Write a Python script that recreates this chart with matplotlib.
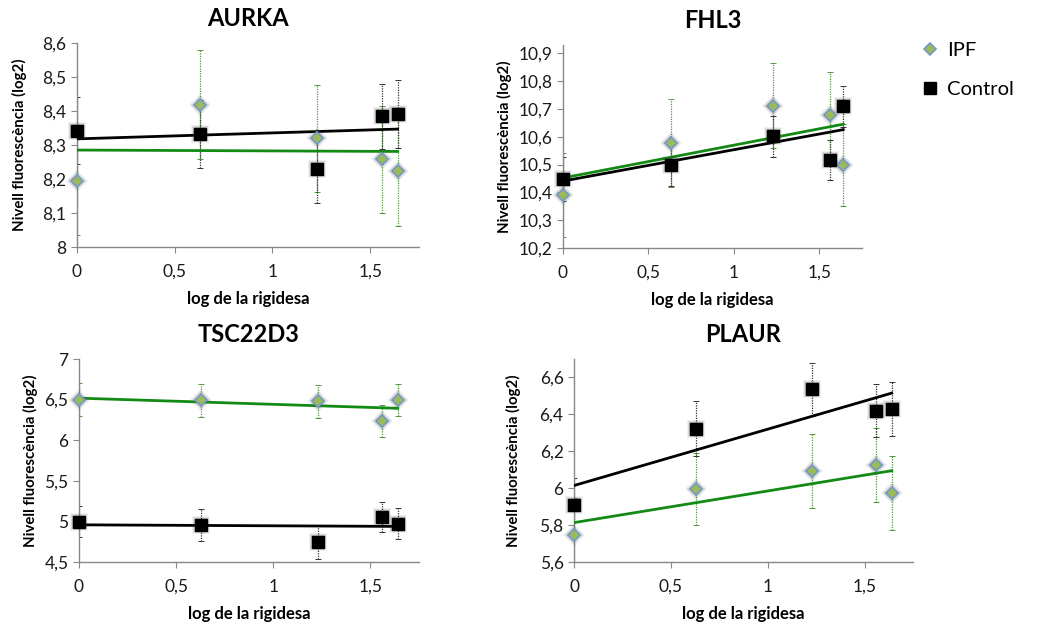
import numpy as np
import matplotlib
matplotlib.use("Agg")
import matplotlib.pyplot as plt
from matplotlib.ticker import FuncFormatter
from matplotlib.lines import Line2D

plt.rcParams['font.family'] = ['Lato', 'DejaVu Sans']

# ---------------- data ----------------
x_vals = [0.0, 0.63, 1.23, 1.56, 1.64]

genes = ["AURKA", "FHL3", "TSC22D3", "PLAUR"]

aurka_ipf = [8.194, 8.418, 8.320, 8.258, 8.223]
aurka_ipf_err = [0.16, 0.16, 0.157, 0.158, 0.16]
aurka_ctl = [8.342, 8.332, 8.229, 8.384, 8.392]
aurka_ctl_err = [0.098, 0.10, 0.10, 0.095, 0.10]

fhl3_ipf = [10.390, 10.577, 10.711, 10.679, 10.499]
fhl3_ipf_err = [0.15, 0.158, 0.153, 0.153, 0.147]
fhl3_ctl = [10.448, 10.499, 10.601, 10.517, 10.709]
fhl3_ctl_err = [0.08, 0.077, 0.075, 0.072, 0.074]

tsc_ipf = [6.499, 6.491, 6.479, 6.240, 6.495]
tsc_ipf_err = [0.20, 0.20, 0.20, 0.196, 0.20]
tsc_ctl = [4.997, 4.956, 4.750, 5.054, 4.972]
tsc_ctl_err = [0.19, 0.20, 0.21, 0.19, 0.19]

plaur_ipf = [5.748, 5.996, 6.094, 6.124, 5.973]
plaur_ipf_err = [0.20, 0.195, 0.20, 0.20, 0.20]
plaur_ctl = [5.910, 6.323, 6.535, 6.420, 6.429]
plaur_ctl_err = [0.145, 0.15, 0.145, 0.142, 0.148]

series = [
    (aurka_ipf, aurka_ipf_err, aurka_ctl, aurka_ctl_err),
    (fhl3_ipf, fhl3_ipf_err, fhl3_ctl, fhl3_ctl_err),
    (tsc_ipf, tsc_ipf_err, tsc_ctl, tsc_ctl_err),
    (plaur_ipf, plaur_ipf_err, plaur_ctl, plaur_ctl_err),
]

ylims = [(8.0, 8.6), (10.2, 10.93), (4.5, 7.0), (5.6, 6.7)]
yticks_list = [np.arange(8.0, 8.61, 0.1), np.arange(10.2, 10.91, 0.1),
               np.arange(4.5, 7.01, 0.5), np.arange(5.6, 6.61, 0.2)]

# axes positions in pixels: left, right, top, bottom
W, H = 1039, 624
boxes = [(77, 419, 43, 247), (563, 862, 45, 248),
         (79, 419, 359, 562), (574, 913, 359, 562)]
ylabel_pads = [11, 5, 5, 13]

green_line = '#138A13'
ipf_fill = '#9BBB59'
ipf_edge = '#7399C6'
axis_col = '#888888'


def fmt(v, pos):
    s = ('%.2f' % v).rstrip('0').rstrip('.')
    return s.replace('.', ',')


fig = plt.figure(figsize=(W / 100, H / 100), dpi=100)

for i, (g, (ipf, ipf_e, ctl, ctl_e)) in enumerate(zip(genes, series)):
    l, r, t, b = boxes[i]
    ax = fig.add_axes([l / W, 1 - b / H, (r - l) / W, (b - t) / H])
    xs = np.array(x_vals)

    # error bars
    for ys, es, col in [(ipf, ipf_e, '#4E9A3A'), (ctl, ctl_e, '#333333')]:
        eb = ax.errorbar(xs, ys, yerr=es, fmt='none', ecolor=col,
                         elinewidth=0.9, capsize=2.5, capthick=0.7, zorder=2)
        for lc in eb[2]:
            lc.set_linestyle((0, (1, 1)))

    # trend lines (least squares)
    xx = np.array([xs.min(), xs.max()])
    p_ipf = np.polyfit(xs, ipf, 1)
    p_ctl = np.polyfit(xs, ctl, 1)
    ax.plot(xx, np.polyval(p_ctl, xx), color='black', lw=2.0, zorder=3)
    ax.plot(xx, np.polyval(p_ipf, xx), color=green_line, lw=2.0, zorder=3)

    # soft shadows
    for ms_add, a in [(5, 0.08), (3.5, 0.12), (2, 0.18)]:
        ax.plot(xs, ipf, linestyle='none', marker='D', ms=6.5 + ms_add, color='#666666',
                alpha=a, markeredgewidth=0, zorder=4, clip_on=False)
        ax.plot(xs, ctl, linestyle='none', marker='s', ms=8.5 + ms_add, color='#444444',
                alpha=a, markeredgewidth=0, zorder=4, clip_on=False)
    # markers
    ax.plot(xs, ipf, linestyle='none', marker='D', ms=6.5, markerfacecolor=ipf_fill,
            markeredgecolor=ipf_edge, markeredgewidth=1.2, zorder=5,
            label='IPF', clip_on=False)
    ax.plot(xs, ctl, linestyle='none', marker='s', ms=8.5, color='black',
            zorder=5, label='Control', clip_on=False)

    ax.set_xlim(0, 1.75)
    ax.set_ylim(*ylims[i])
    ax.set_xticks([0, 0.5, 1, 1.5])
    ax.set_yticks(yticks_list[i])
    ax.xaxis.set_major_formatter(FuncFormatter(fmt))
    ax.yaxis.set_major_formatter(FuncFormatter(fmt))

    for s in ['top', 'right']:
        ax.spines[s].set_visible(False)
    for s in ['left', 'bottom']:
        ax.spines[s].set_color(axis_col)
        ax.spines[s].set_linewidth(1.0)
    ax.tick_params(direction='out', length=4, color=axis_col, labelsize=12.5,
                   labelcolor='#1a1a1a')
    ax.tick_params(axis='x', pad=8)
    ax.set_title(g, fontsize=17, fontweight='bold', pad=12)
    ax.set_xlabel('log de la rigidesa', fontsize=12, fontweight='bold', labelpad=8)
    ax.set_ylabel('Nivell fluorescència (log2)', fontsize=10.8, fontweight='bold',
                  labelpad=ylabel_pads[i])

    if i == 1:
        hd = [Line2D([], [], linestyle='none', marker='D', ms=6.5, markerfacecolor=ipf_fill,
                     markeredgecolor=ipf_edge, markeredgewidth=1.2),
              Line2D([], [], linestyle='none', marker='s', ms=8, color='black')]
        fig.legend(hd, ['IPF', 'Control'], loc='upper left',
                   bbox_to_anchor=(902 / W, 1 - 24 / H), frameon=False,
                   fontsize=14.5, handletextpad=0.35, labelspacing=1.1,
                   handlelength=1.0)

fig.savefig('out.png', dpi=100)
